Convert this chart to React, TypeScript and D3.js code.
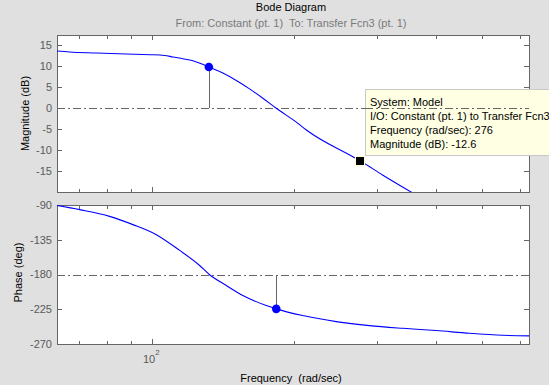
import React, { useEffect, useRef } from 'react';
import * as d3 from 'd3';

// values
const magFreq = [62.8, 66.8, 76.1, 88.1, 98.7, 106.2, 110.6, 116.1, 121.9, 127, 131.8, 141.1, 150.7, 160.7, 171.5, 183.1, 203.5, 212.1, 266.1, 276, 308.1, 356.5];
const magDb = [13.68, 13.44, 13.2, 12.96, 12.8, 12.62, 12.24, 11.83, 11.35, 10.63, 9.84, 8.4, 6.62, 4.63, 2.4, 0, -3.6, -5.2, -11.6, -12.6, -16.0, -20.25];

const phaseFreq = [62.8, 70.2, 81.2, 91.0, 102, 114.3, 126, 132.3, 143.5, 155.6, 174.4, 183.1, 208.4, 245.4, 288.6, 339.6, 399.6, 470, 553, 628.3];
const phaseDeg = [-90.5, -96, -104.7, -115.4, -128.4, -148.8, -168.3, -180.3, -194.2, -207.2, -220.2, -224.5, -233.2, -241, -246.2, -249.7, -252.6, -256.1, -258.7, -259.5];

const freqLimits = [62.83, 628.3];
const magLimits = [-20, 17.5];
const phaseLimits = [-270, -90];
const magTicks = [-15, -10, -5, 0, 5, 10, 15];
const phaseTicks = [-270, -225, -180, -135, -90];
const minorFreqTicks = [70, 80, 90, 200, 300, 400, 500, 600];
const majorFreqTicks = [100];

const gainMargin = { freq: 131.8, mag: 9.84 };
const phaseMargin = { freq: 183.1, phase: -224.5 };
const dataTip = { freq: 276, mag: -12.6 };
const tipLines = ['System: Model', 'I/O: Constant (pt. 1) to Transfer Fcn3', 'Frequency (rad/sec): 276', 'Magnitude (dB): -12.6'];

const W = 549;
const H = 385;
const font = 'Arial, "Liberation Sans", Helvetica, sans-serif';

const App = () => {
  const ref = useRef<SVGSVGElement>(null);

  useEffect(() => {
    const svg = d3.select(ref.current);
    svg.selectAll('*').remove();

    const left = 57, right = 529;
    const magTop = 35, magBottom = 192;
    const phTop = 205, phBottom = 344;

    const x = d3.scaleLog().domain(freqLimits).range([left, right]);
    const yMag = d3.scaleLinear().domain(magLimits).range([magBottom, magTop]);
    const yPh = d3.scaleLinear().domain(phaseLimits).range([phBottom, phTop]);

    svg.append('rect').attr('width', W).attr('height', H).attr('fill', '#e0e0e0');

    const defs = svg.append('defs');
    defs.append('clipPath').attr('id', 'clipMag')
      .append('rect').attr('x', left).attr('y', magTop).attr('width', right - left).attr('height', magBottom - magTop);
    defs.append('clipPath').attr('id', 'clipPh')
      .append('rect').attr('x', left).attr('y', phTop).attr('width', right - left).attr('height', phBottom - phTop);

    const drawPanel = (top: number, bottom: number, y: d3.ScaleLinear<number, number>, ticks: number[]) => {
      const g = svg.append('g').attr('shape-rendering', 'crispEdges');
      g.append('rect')
        .attr('x', left + 0.5).attr('y', top + 0.5)
        .attr('width', right - left).attr('height', bottom - top)
        .attr('fill', '#ffffff').attr('stroke', '#666666');

      const xt = [...minorFreqTicks.map(f => ({ f, len: 3.5 })), ...majorFreqTicks.map(f => ({ f, len: 5 }))];
      xt.forEach(t => {
        const px = Math.round(x(t.f)) + 0.5;
        g.append('line').attr('x1', px).attr('x2', px).attr('y1', top).attr('y2', top + t.len).attr('stroke', '#666666');
        g.append('line').attr('x1', px).attr('x2', px).attr('y1', bottom).attr('y2', bottom - t.len).attr('stroke', '#666666');
      });
      ticks.forEach(v => {
        const py = Math.round(y(v)) + 0.5;
        g.append('line').attr('x1', left).attr('x2', left + 5).attr('y1', py).attr('y2', py).attr('stroke', '#666666');
        g.append('line').attr('x1', right).attr('x2', right - 5).attr('y1', py).attr('y2', py).attr('stroke', '#666666');
        svg.append('text')
          .attr('x', 52).attr('y', y(v)).attr('dy', '0.35em')
          .attr('text-anchor', 'end')
          .attr('font-family', font).attr('font-size', 11)
          .attr('fill', '#5a5a5a')
          .text(v);
      });
    };

    drawPanel(magTop, magBottom, yMag, magTicks);
    drawPanel(phTop, phBottom, yPh, phaseTicks);

    const dashed = (y: number) => svg.append('line')
      .attr('x1', left).attr('x2', right)
      .attr('y1', Math.round(y) + 0.5).attr('y2', Math.round(y) + 0.5)
      .attr('stroke', '#666666')
      .attr('stroke-dasharray', '8,3,2,3')
      .attr('shape-rendering', 'crispEdges');

    // magnitude
    const magLine = d3.line<number>()
      .x((d, i) => x(magFreq[i]))
      .y(d => yMag(d))
      .curve(d3.curveMonotoneX);
    dashed(yMag(0));
    svg.append('line')
      .attr('x1', Math.round(x(gainMargin.freq)) + 0.5).attr('x2', Math.round(x(gainMargin.freq)) + 0.5)
      .attr('y1', yMag(gainMargin.mag)).attr('y2', yMag(0))
      .attr('stroke', '#666666')
      .attr('shape-rendering', 'crispEdges');
    svg.append('path')
      .datum(magDb)
      .attr('d', magLine)
      .attr('clip-path', 'url(#clipMag)')
      .attr('fill', 'none')
      .attr('stroke', '#0000ff')
      .attr('stroke-width', 1.1);
    svg.append('circle')
      .attr('cx', x(gainMargin.freq)).attr('cy', yMag(gainMargin.mag))
      .attr('r', 4.3).attr('fill', '#0000ff');

    // phase
    const phLine = d3.line<number>()
      .x((d, i) => x(phaseFreq[i]))
      .y(d => yPh(d))
      .curve(d3.curveMonotoneX);
    dashed(yPh(-180));
    svg.append('line')
      .attr('x1', Math.round(x(phaseMargin.freq)) + 0.5).attr('x2', Math.round(x(phaseMargin.freq)) + 0.5)
      .attr('y1', yPh(phaseMargin.phase)).attr('y2', yPh(-180))
      .attr('stroke', '#666666')
      .attr('shape-rendering', 'crispEdges');
    svg.append('path')
      .datum(phaseDeg)
      .attr('d', phLine)
      .attr('clip-path', 'url(#clipPh)')
      .attr('fill', 'none')
      .attr('stroke', '#0000ff')
      .attr('stroke-width', 1.1);
    svg.append('circle')
      .attr('cx', x(phaseMargin.freq)).attr('cy', yPh(phaseMargin.phase))
      .attr('r', 4.3).attr('fill', '#0000ff');

    // data tip
    const tx = x(dataTip.freq), ty = yMag(dataTip.mag);
    svg.append('rect')
      .attr('x', 365.5).attr('y', 89.5).attr('width', 200).attr('height', 66)
      .attr('fill', '#ffffe4').attr('stroke', '#c8c8c8')
      .attr('shape-rendering', 'crispEdges');
    dashed(yMag(0)).attr('x1', 365);
    tipLines.forEach((s, i) => {
      svg.append('text')
        .attr('x', 370).attr('y', 101.7 + i * 14.2).attr('dy', '0.35em')
        .attr('font-family', font).attr('font-size', 11)
        .attr('fill', '#000000')
        .text(s);
    });
    svg.append('rect')
      .attr('x', Math.round(tx) - 4.5).attr('y', Math.round(ty) - 4.5).attr('width', 9).attr('height', 9)
      .attr('fill', '#000000').attr('stroke', '#ffffd0').attr('stroke-width', 1)
      .attr('shape-rendering', 'crispEdges');

    // x tick label 10^2
    const lbl = svg.append('text')
      .attr('x', x(100) - 1).attr('y', 363)
      .attr('text-anchor', 'middle')
      .attr('font-family', font).attr('font-size', 11)
      .attr('fill', '#5a5a5a');
    lbl.append('tspan').text('10');
    lbl.append('tspan').attr('dy', -8).attr('font-size', 8).text('2');

    // titles and labels
    const mid = (left + right) / 2;
    svg.append('text')
      .attr('x', mid - 2).attr('y', 11)
      .attr('text-anchor', 'middle')
      .attr('font-family', font).attr('font-size', 11)
      .attr('fill', '#000000')
      .text('Bode Diagram');
    svg.append('text')
      .attr('x', mid - 2).attr('y', 26.5)
      .attr('text-anchor', 'middle')
      .attr('font-family', font).attr('font-size', 11)
      .attr('fill', '#7a7a7a')
      .attr('xml:space', 'preserve')
      .text('From: Constant (pt. 1)  To: Transfer Fcn3 (pt. 1)');
    svg.append('text')
      .attr('x', mid - 2).attr('y', 382)
      .attr('text-anchor', 'middle')
      .attr('font-family', font).attr('font-size', 11)
      .attr('fill', '#000000')
      .attr('xml:space', 'preserve')
      .text('Frequency  (rad/sec)');
    svg.append('text')
      .attr('transform', `translate(29,${(magTop + magBottom) / 2}) rotate(-90)`)
      .attr('text-anchor', 'middle')
      .attr('font-family', font).attr('font-size', 11)
      .attr('fill', '#000000')
      .text('Magnitude (dB)');
    svg.append('text')
      .attr('transform', `translate(22,${(phTop + phBottom) / 2 - 2}) rotate(-90)`)
      .attr('text-anchor', 'middle')
      .attr('font-family', font).attr('font-size', 11)
      .attr('fill', '#000000')
      .text('Phase (deg)');
  }, []);

  return (
    <svg ref={ref} width={W} height={H} style={{ position: 'absolute', left: 0, top: 0, display: 'block' }} />
  );
};

export default App;
